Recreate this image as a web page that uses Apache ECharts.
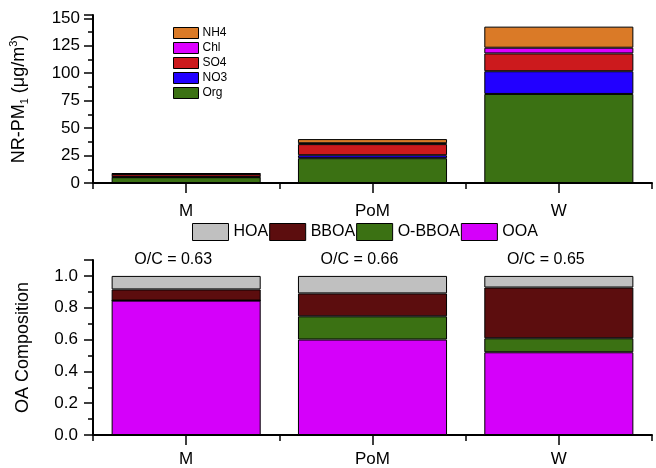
<!DOCTYPE html>
<html>
<head>
<meta charset="utf-8">
<script src="https://cdn.jsdelivr.net/npm/echarts@6/dist/echarts.min.js"></script>
<style>html,body{margin:0;padding:0;background:#fff}#c{width:656px;height:468px}</style>
</head>
<body>
<div id="c"></div>
<script>
var categories = ['M', 'PoM', 'W'];
// Top panel: NR-PM1 species (ug/m3)
var org = [5.3, 22.6, 81.1];
var no3 = [0.3, 2.7, 20.7];
var so4 = [2.4, 10.1, 16.2];
var chl = [0.2, 0.8, 5.2];
var nh4 = [0.9, 3.8, 19.2];
var topTicks = [0, 25, 50, 75, 100, 125, 150];
// Bottom panel: OA composition fractions
var ooa = [0.845, 0.60, 0.52];
var obboa = [0.0, 0.146, 0.088];
var bboa = [0.07, 0.144, 0.319];
var hoa = [0.085, 0.11, 0.073];
var ocRatio = ['0.63', '0.66', '0.65'];
var bottomTicks = [0, 0.2, 0.4, 0.6, 0.8, 1.0];

var FONT = 'Liberation Sans, Arial, sans-serif';
var chart = echarts.init(document.getElementById('c'), null, {renderer: 'canvas'});
var border = {borderColor: '#000', borderWidth: 1};

function bar(name, data, color, xi, yi, stack, extra) {
  var s = {
    name: name, type: 'bar', stack: stack, data: data,
    xAxisIndex: xi, yAxisIndex: yi, barCategoryGap: '20%',
    itemStyle: Object.assign({color: color}, border),
    emphasis: {disabled: true}
  };
  return Object.assign(s, extra || {});
}

var axisLine = {lineStyle: {color: '#000', width: 2}};

chart.setOption({
  animation: false,
  textStyle: {fontFamily: FONT},
  grid: [
    {left: 93, right: 4, top: 15, height: 168},
    {left: 93, right: 4, top: 260, height: 176}
  ],
  legend: [
    {
      data: ['NH4', 'Chl', 'SO4', 'NO3', 'Org'],
      orient: 'vertical', left: 168, top: 22,
      itemWidth: 25, itemHeight: 11, itemGap: 3,
      icon: 'rect',
      itemStyle: {borderColor: '#000', borderWidth: 1},
      textStyle: {fontSize: 12, color: '#000', fontFamily: FONT, padding: [0, 0, 0, -1]},
      selectedMode: false
    },
    {
      data: ['HOA', 'BBOA', 'O-BBOA', 'OOA'],
      orient: 'horizontal', left: 187, top: 218,
      itemWidth: 36, itemHeight: 17, itemGap: 1,
      icon: 'rect',
      itemStyle: {borderColor: '#000', borderWidth: 1},
      textStyle: {fontSize: 16, color: '#000', fontFamily: FONT, padding: [0, 0, 0, 0]},
      selectedMode: false
    }
  ],
  xAxis: [
    {gridIndex: 0, type: 'category', position: 'bottom', data: categories, axisLine: axisLine,
     axisTick: {show: true, length: 6, lineStyle: {color: '#000', width: 1.5}},
     axisLabel: {fontSize: 17, color: '#000', margin: 20, fontFamily: FONT}},
    {gridIndex: 0, type: 'category', position: 'bottom', data: categories, axisLine: {show: false},
     axisTick: {show: true, alignWithLabel: true, length: 10, lineStyle: {color: '#000', width: 1.5}},
     axisLabel: {show: false}},
    {gridIndex: 1, type: 'category', position: 'bottom', data: categories, axisLine: axisLine,
     axisTick: {show: true, length: 6, lineStyle: {color: '#000', width: 1.5}},
     axisLabel: {fontSize: 17, color: '#000', margin: 16, fontFamily: FONT}},
    {gridIndex: 1, type: 'category', position: 'bottom', data: categories, axisLine: {show: false},
     axisTick: {show: true, alignWithLabel: true, length: 10, lineStyle: {color: '#000', width: 1.5}},
     axisLabel: {show: false}}
  ],
  yAxis: [
    {gridIndex: 0, type: 'value', min: 0, max: 153, interval: 25,
     axisLine: Object.assign({show: true}, axisLine),
     axisTick: {show: true, length: 9, lineStyle: {color: '#000', width: 1.5}},
     minorTick: {show: true, splitNumber: 2, length: 5, lineStyle: {color: '#000', width: 1.5}},
     splitLine: {show: false},
     axisLabel: {fontSize: 17, color: '#000', margin: 13, fontFamily: FONT,
       formatter: function (v) { return topTicks.indexOf(v) >= 0 ? String(v) : ''; }},
     name: '{a|NR-PM}{sub|1}{a| (μg/m}{sup|3}{a|)}',
     nameLocation: 'middle', nameGap: 63,
     nameTextStyle: {
       fontFamily: FONT, color: '#000',
       rich: {
         a: {fontSize: 18, fontFamily: FONT, color: '#000', lineHeight: 22, verticalAlign: 'middle'},
         sub: {fontSize: 11, fontFamily: FONT, color: '#000', lineHeight: 22, verticalAlign: 'bottom', padding: [8, 0, 0, 0]},
         sup: {fontSize: 11, fontFamily: FONT, color: '#000', lineHeight: 22, verticalAlign: 'top', padding: [0, 0, 10, 0]}
       }
     }},
    {gridIndex: 1, type: 'value', min: 0, max: 1.1, interval: 0.2,
     axisLine: Object.assign({show: true}, axisLine),
     axisTick: {show: true, length: 9, lineStyle: {color: '#000', width: 1.5}},
     minorTick: {show: true, splitNumber: 2, length: 5, lineStyle: {color: '#000', width: 1.5}},
     splitLine: {show: false},
     axisLabel: {fontSize: 17, color: '#000', margin: 15, fontFamily: FONT,
       formatter: function (v) {
         for (var i = 0; i < bottomTicks.length; i++) { if (Math.abs(bottomTicks[i] - v) < 1e-6) return v.toFixed(1); }
         return '';
       }},
     name: 'OA Composition', nameLocation: 'middle', nameGap: 61,
     nameTextStyle: {fontSize: 18, color: '#000', fontFamily: FONT}}
  ],
  series: [
    bar('Org', org, '#3b7113', 0, 0, 'top'),
    bar('NO3', no3, '#2200ff', 0, 0, 'top'),
    bar('SO4', so4, '#cc1a1d', 0, 0, 'top'),
    bar('Chl', chl, '#dd00ff', 0, 0, 'top'),
    bar('NH4', nh4, '#da7a27', 0, 0, 'top'),
    bar('OOA', ooa, '#d500fa', 2, 1, 'bot'),
    bar('O-BBOA', obboa, '#3b7113', 2, 1, 'bot'),
    bar('BBOA', bboa, '#5c0d0e', 2, 1, 'bot'),
    bar('HOA', hoa, '#c0c0c0', 2, 1, 'bot', {
      label: {show: true, position: 'top', distance: 8, offset: [-13, 0],
        fontSize: 16, color: '#000', fontFamily: FONT,
        formatter: function (p) { return 'O/C = ' + ocRatio[p.dataIndex]; }}
    })
  ]
});
</script>
</body>
</html>
